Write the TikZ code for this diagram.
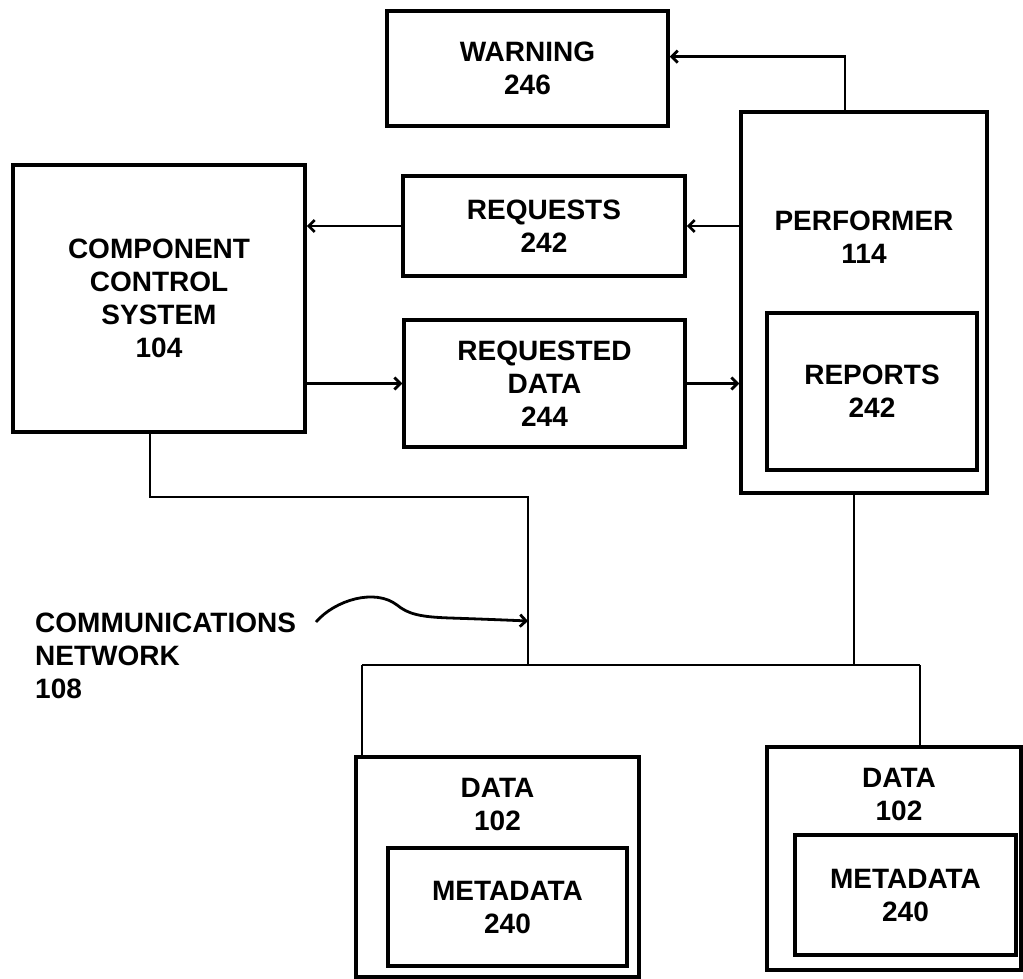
\documentclass[tikz,border=0pt]{standalone}
\usepackage{fontspec}
\setmainfont{Liberation Sans}
\usetikzlibrary{arrows.meta,calc}
\begin{document}
\begin{tikzpicture}[x=1pt,y=-1pt,
  box/.style={draw,line width=3.5pt,rectangle,inner sep=0pt,
    font=\fontsize{28}{33}\selectfont\bfseries,align=center},
  txt/.style={inner sep=0pt,font=\fontsize{28}{33}\selectfont\bfseries,align=center},
  conn/.style={line width=2.8pt},
  arr/.style={conn,-{Straight Barb[length=6pt,width=12pt,line width=2.8pt]}}
]
\useasboundingbox (0,0) rectangle (1023,979);

% boxes
\node[box,minimum width=281pt,minimum height=115pt] (warning) at (527.5,68.5) {WARNING\\246};
\node[box,minimum width=292pt,minimum height=267pt] (ccs) at (159,298.5) {COMPONENT\\CONTROL\\SYSTEM\\104};
\node[box,minimum width=282pt,minimum height=100pt] (req) at (544,226) {REQUESTS\\242};
\node[box,minimum width=281pt,minimum height=127pt] (reqd) at (544.5,383.5) {REQUESTED\\DATA\\244};
\node[box,minimum width=246pt,minimum height=381pt] (perf) at (864,302.5) {};
\node[txt] (perft) at (864,237) {PERFORMER\\114};
\node[box,minimum width=210pt,minimum height=157pt] (rep) at (872,391.5) {REPORTS\\242};
\node[box,minimum width=283pt,minimum height=220pt] (data1) at (497.5,867) {};
\node[txt] (data1t) at (497.5,804) {DATA\\102};
\node[box,minimum width=239pt,minimum height=118pt] (meta1) at (507.5,907) {METADATA\\240};
\node[box,minimum width=254pt,minimum height=223pt] (data2) at (894,858.5) {};
\node[txt] (data2t) at (899,794) {DATA\\102};
\node[box,minimum width=221pt,minimum height=120pt] (meta2) at (905.5,895) {METADATA\\240};

\node[txt,align=left,anchor=north west] (comm) at (35,613) {COMMUNICATIONS\\NETWORK\\108};

% network coordinates
\coordinate (ccsout) at ([xshift=-9pt]ccs.south);
\coordinate (perfout) at ([xshift=-10pt]perf.south);
\coordinate (jog) at (528,497);
\coordinate (busL) at (362,665);
\coordinate (busR) at (920,665);
\coordinate (busM) at (jog |- busL);
\coordinate (netpt) at (528,621);
\coordinate (curvestart) at (316,622);

% connectors
\draw[arr] ([xshift=-19pt]perf.north) |- ($(warning.north east)!0.4!(warning.south east)$);
\draw[arr] (perf.west |- req.east) -- (req.east);
\draw[arr] (req.west) -- (ccs.east |- req.west);
\draw[arr] (ccs.east |- reqd.west) -- (reqd.west);
\draw[arr] (reqd.east) -- (perf.west |- reqd.east);

\draw[conn] (ccsout) -- (ccsout |- jog) -- (jog) -- (busM);
\draw[conn] (perfout) -- (perfout |- busR);
\draw[conn] (busL) -- (busR);
\draw[conn] (busL) -- (busL |- data1.north);
\draw[conn] (busR) -- (busR |- data2.north);

\draw[arr] (curvestart)
  .. controls (335,600) and (375,588) .. (397,605)
  .. controls (408,614) and (420,617) .. (450,618)
  .. controls (480,619) and (505,620) .. (netpt);
\end{tikzpicture}
\end{document}
